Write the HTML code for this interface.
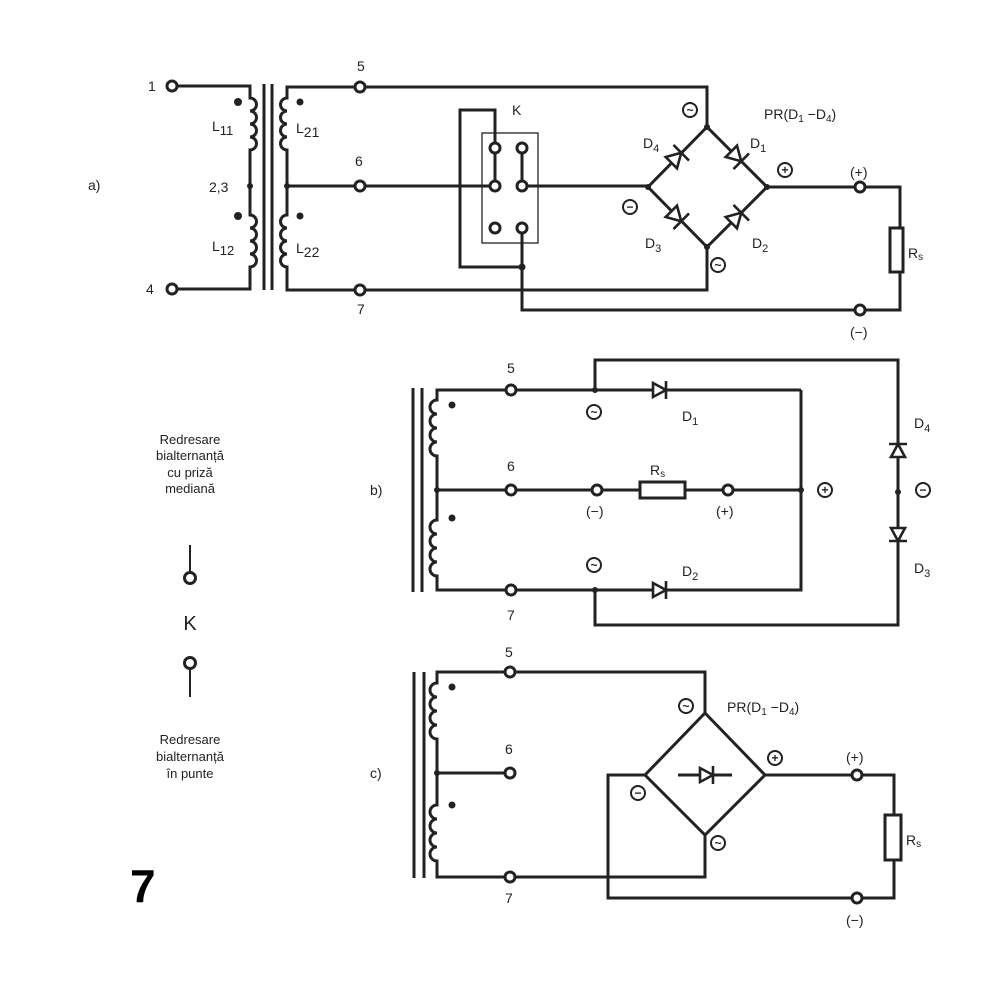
<!DOCTYPE html>
<html><head><meta charset="utf-8"><style>
html,body{margin:0;padding:0;background:#fff;}
svg{display:block}
text{font-family:"Liberation Sans",sans-serif;fill:#222}
</style></head><body>
<svg width="1001" height="988" viewBox="0 0 1001 988" xmlns="http://www.w3.org/2000/svg">
<defs>
<g id="di"><polygon points="-7,-7 -7,7 6,0" fill="#fff" stroke="#222" stroke-width="2.6"/><line x1="6" y1="-9" x2="6" y2="9" stroke="#222" stroke-width="2.6"/></g>
<g id="dib"><polygon points="-8,-8 -8,8 6,0" fill="#fff" stroke="#222" stroke-width="2.6"/><line x1="6" y1="-11" x2="6" y2="11" stroke="#222" stroke-width="2.6"/></g>
<g id="tm"><circle r="5" fill="#fff" stroke="#222" stroke-width="3"/></g>
</defs>
<g fill="none" stroke="#222" stroke-width="3">
<!-- (a) -->
<path d="M177,86 H250 V98 a6.5,6.5 0 0 1 0,13 a6.5,6.5 0 0 1 0,13 a6.5,6.5 0 0 1 0,13 a6.5,6.5 0 0 1 0,13 V215 a6.5,6.5 0 0 1 0,13 a6.5,6.5 0 0 1 0,13 a6.5,6.5 0 0 1 0,13 a6.5,6.5 0 0 1 0,13 V289 H177"/>
<line x1="264" y1="84" x2="264" y2="290"/><line x1="272" y1="84" x2="272" y2="290"/>
<path d="M707,127 V87 H287 V98 a6.5,6.5 0 0 0 0,13 a6.5,6.5 0 0 0 0,13 a6.5,6.5 0 0 0 0,13 a6.5,6.5 0 0 0 0,13 V215 a6.5,6.5 0 0 0 0,13 a6.5,6.5 0 0 0 0,13 a6.5,6.5 0 0 0 0,13 a6.5,6.5 0 0 0 0,13 V290 H707 V247"/>
<line x1="287" y1="186" x2="495" y2="186"/>
<rect x="482" y="133" width="56" height="110" stroke-width="1.3"/>
<line x1="495" y1="148" x2="495" y2="186"/><line x1="522" y1="148" x2="522" y2="186"/>
<path d="M495,148 V110 H460 V267 H522"/>
<path d="M522,228 V310 H860"/>
<line x1="522" y1="186" x2="648" y2="186"/>
<polygon points="707,127 767,187 707,247 648,187"/>
<path d="M767,187 H900 V310 H860"/>
<rect x="890" y="228" width="13" height="44" fill="#fff"/>
<!-- (b) -->
<line x1="413" y1="388" x2="413" y2="592"/><line x1="422" y1="388" x2="422" y2="592"/>
<path d="M801,390 H437 V400 a7,7 0 0 0 0,14 a7,7 0 0 0 0,14 a7,7 0 0 0 0,14 a7,7 0 0 0 0,14 V520 a7,7 0 0 0 0,14 a7,7 0 0 0 0,14 a7,7 0 0 0 0,14 a7,7 0 0 0 0,14 V590 H801 V390"/>
<line x1="437" y1="490" x2="801" y2="490"/>
<rect x="640" y="482" width="45" height="16" fill="#fff"/>
<path d="M595,390 V360 H898 V625 H595 V590"/>
<!-- (c) -->
<line x1="414" y1="672" x2="414" y2="878"/><line x1="424" y1="672" x2="424" y2="878"/>
<path d="M705,713 V672 H437 V683 a7,7 0 0 0 0,14 a7,7 0 0 0 0,14 a7,7 0 0 0 0,14 a7,7 0 0 0 0,14 V805 a7,7 0 0 0 0,14 a7,7 0 0 0 0,14 a7,7 0 0 0 0,14 a7,7 0 0 0 0,14 V877 H705 V835"/>
<line x1="437" y1="773" x2="510" y2="773"/>
<polygon points="705,713 765,775 705,835 645,775"/>
<path d="M645,775 H608 V898 H894 V775 H765"/>
<rect x="885" y="815" width="16" height="45" fill="#fff"/>
<line x1="678" y1="775" x2="732" y2="775"/>
<!-- switch symbol -->
<line x1="190" y1="545" x2="190" y2="572" stroke-width="2"/>
<circle cx="190" cy="578" r="5.5" stroke-width="3"/>
<circle cx="190" cy="663" r="5.5" stroke-width="3"/>
<line x1="190" y1="669" x2="190" y2="697" stroke-width="2"/>
</g>
<!-- diodes -->
<use href="#dib" transform="translate(677,157) rotate(-45)"/>
<use href="#dib" transform="translate(737,157) rotate(45)"/>
<use href="#dib" transform="translate(677,217) rotate(45)"/>
<use href="#dib" transform="translate(737,217) rotate(-45)"/>
<use href="#di" transform="translate(660,390)"/>
<use href="#di" transform="translate(660,590)"/>
<use href="#di" transform="translate(898,450) rotate(-90)"/>
<use href="#di" transform="translate(898,535) rotate(90)"/>
<use href="#di" transform="translate(707,775)"/>
<!-- terminals -->
<use href="#tm" x="172" y="86"/><use href="#tm" x="172" y="289"/>
<use href="#tm" x="360" y="87"/><use href="#tm" x="360" y="186"/><use href="#tm" x="360" y="290"/>
<use href="#tm" x="495" y="148"/><use href="#tm" x="522" y="148"/><use href="#tm" x="495" y="186"/><use href="#tm" x="522" y="186"/><use href="#tm" x="495" y="228"/><use href="#tm" x="522" y="228"/>
<use href="#tm" x="860" y="187"/><use href="#tm" x="860" y="310"/>
<use href="#tm" x="511" y="390"/><use href="#tm" x="511" y="490"/><use href="#tm" x="511" y="590"/>
<use href="#tm" x="597" y="490"/><use href="#tm" x="728" y="490"/>
<use href="#tm" x="510" y="672"/><use href="#tm" x="510" y="773"/><use href="#tm" x="510" y="877"/>
<use href="#tm" x="857" y="775"/><use href="#tm" x="857" y="898"/>
<!-- dots -->
<g fill="#222">
<circle cx="238" cy="102" r="4"/><circle cx="238" cy="216" r="4"/><circle cx="300" cy="102" r="3.5"/><circle cx="300" cy="216" r="3.5"/>
<circle cx="250" cy="186" r="3"/><circle cx="287" cy="186" r="3"/><circle cx="522" cy="267" r="3.5"/>
<circle cx="707" cy="127" r="3"/><circle cx="767" cy="187" r="3"/><circle cx="707" cy="247" r="3"/><circle cx="648" cy="187" r="3"/>
<circle cx="452" cy="405" r="3.5"/><circle cx="452" cy="518" r="3.5"/><circle cx="437" cy="490" r="3"/>
<circle cx="595" cy="390" r="3"/><circle cx="595" cy="590" r="3"/><circle cx="801" cy="490" r="3"/><circle cx="898" cy="492" r="3"/>
<circle cx="452" cy="687" r="3.5"/><circle cx="452" cy="805" r="3.5"/><circle cx="437" cy="773" r="3"/>
</g>
<!-- circled signs -->
<g fill="#fff" stroke="#222" stroke-width="2">
<circle cx="690" cy="110" r="7"/><circle cx="630" cy="207" r="7"/><circle cx="785" cy="170" r="7"/><circle cx="718" cy="265" r="7"/>
<circle cx="594" cy="412" r="7"/><circle cx="594" cy="565" r="7"/><circle cx="825" cy="490" r="7"/><circle cx="923" cy="490" r="7"/>
<circle cx="686" cy="706" r="7"/><circle cx="775" cy="758" r="7"/><circle cx="638" cy="793" r="7"/><circle cx="718" cy="843" r="7"/>
</g>
<g font-size="12" text-anchor="middle" font-weight="bold">
<text x="690" y="114">~</text><text x="630" y="211">−</text><text x="785" y="174">+</text><text x="718" y="269">~</text>
<text x="594" y="416">~</text><text x="594" y="569">~</text><text x="825" y="494">+</text><text x="923" y="494">−</text>
<text x="686" y="710">~</text><text x="775" y="762">+</text><text x="638" y="797">−</text><text x="718" y="847">~</text>
</g>
<!-- labels -->
<g font-size="14">
<text x="148" y="91">1</text><text x="146" y="294">4</text>
<text x="357" y="71">5</text><text x="355" y="166">6</text><text x="357" y="314">7</text>
<text x="209" y="192">2,3</text>
<text x="212" y="131">L<tspan font-size="13" dy="4">11</tspan></text>
<text x="296" y="133">L<tspan dy="4">21</tspan></text>
<text x="212" y="251">L<tspan font-size="13" dy="4">12</tspan></text>
<text x="296" y="253">L<tspan dy="4">22</tspan></text>
<text x="512" y="115">K</text>
<text x="88" y="190">a)</text>
<text x="764" y="119">PR(D<tspan font-size="10" dy="3">1</tspan><tspan dy="-3"> −D</tspan><tspan font-size="10" dy="3">4</tspan><tspan dy="-3">)</tspan></text>
<text x="643" y="148">D<tspan font-size="11" dy="4">4</tspan></text>
<text x="750" y="148">D<tspan font-size="11" dy="4">1</tspan></text>
<text x="645" y="248">D<tspan font-size="11" dy="4">3</tspan></text>
<text x="752" y="248">D<tspan font-size="11" dy="4">2</tspan></text>
<text x="850" y="177">(+)</text><text x="850" y="337">(−)</text>
<text x="908" y="258">R<tspan font-size="10" dy="2">s</tspan></text>
<text x="507" y="373">5</text><text x="507" y="471">6</text><text x="507" y="620">7</text>
<text x="370" y="495">b)</text>
<text x="682" y="421">D<tspan font-size="11" dy="4">1</tspan></text>
<text x="682" y="576">D<tspan font-size="11" dy="4">2</tspan></text>
<text x="650" y="475">R<tspan font-size="10" dy="2">s</tspan></text>
<text x="586" y="516">(−)</text><text x="716" y="516">(+)</text>
<text x="914" y="428">D<tspan font-size="11" dy="4">4</tspan></text>
<text x="914" y="573">D<tspan font-size="11" dy="4">3</tspan></text>
<text x="505" y="657">5</text><text x="505" y="754">6</text><text x="505" y="903">7</text>
<text x="370" y="778">c)</text>
<text x="727" y="712">PR(D<tspan font-size="10" dy="3">1</tspan><tspan dy="-3"> −D</tspan><tspan font-size="10" dy="3">4</tspan><tspan dy="-3">)</tspan></text>
<text x="846" y="762">(+)</text><text x="846" y="925">(−)</text>
<text x="906" y="845">R<tspan font-size="10" dy="2">s</tspan></text>
</g>
<g font-size="13" text-anchor="middle">
<text x="190" y="444">Redresare</text><text x="190" y="460">bialternanță</text><text x="190" y="477">cu priză</text><text x="190" y="493">mediană</text>
<text x="190" y="744">Redresare</text><text x="190" y="761">bialternanță</text><text x="190" y="778">în punte</text>
<text x="190" y="630" font-size="20">K</text>
</g>
<text x="130" y="902" font-size="46" font-weight="bold" style="fill:#000">7</text>
</svg>
</body></html>
